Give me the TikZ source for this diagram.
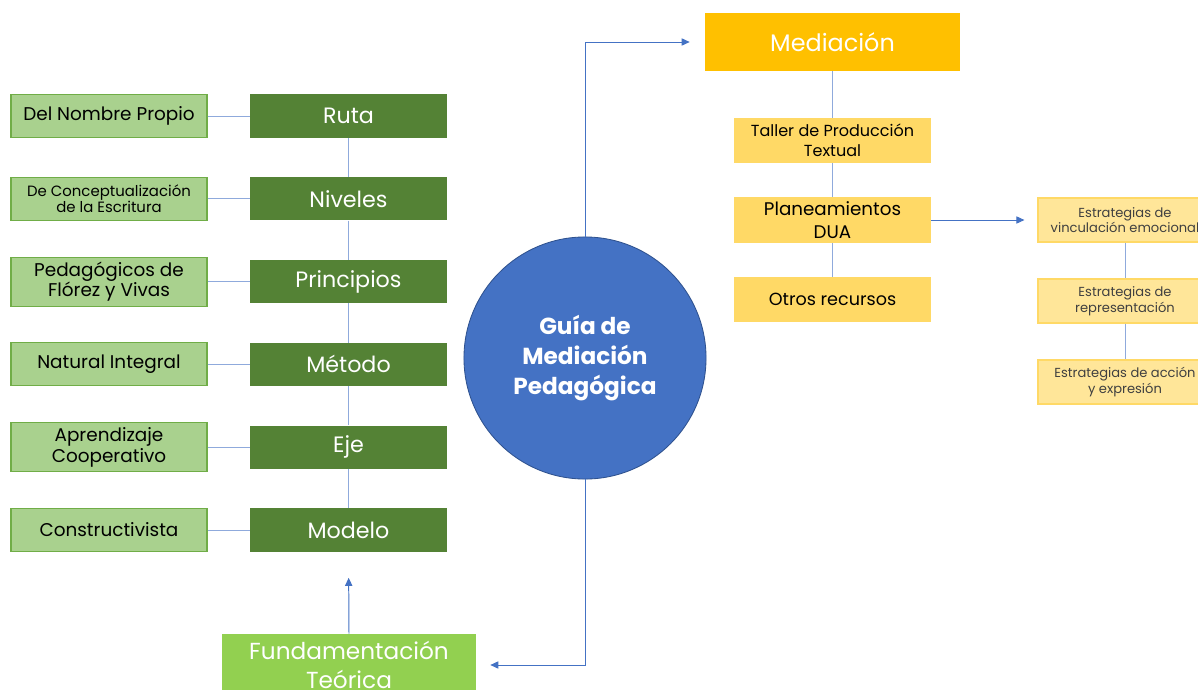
\documentclass[tikz,border=0pt]{standalone}
\usepackage{fontspec}
\setmainfont{Poppins}
\usepackage{tikz}
\usetikzlibrary{arrows.meta}
\definecolor{ramagreen}{HTML}{548235}
\definecolor{hojagreen}{HTML}{A9D18E}
\definecolor{hojaborde}{HTML}{70AD47}
\definecolor{fundgreen}{HTML}{92D050}
\definecolor{guiablue}{HTML}{4472C4}
\definecolor{guiaborde}{HTML}{2F528F}
\definecolor{medorange}{HTML}{FFC000}
\definecolor{recyellow}{HTML}{FFD966}
\definecolor{estyellow}{HTML}{FFE699}
\definecolor{linkblue}{HTML}{8FAADC}
\tikzset{
  x=0.025cm, y=-0.025cm,
  every rama/.style={fill=ramagreen, text=white, minimum width=4.925cm, minimum height=1.075cm, font=\fontsize{15.8}{17}\selectfont},
  every hoja/.style={fill=hojagreen, draw=hojaborde, line width=0.8pt, minimum width=4.9cm, minimum height=1.075cm, align=center, font=\fontsize{13.1}{14.5}\selectfont},
  niveles/.style={font=\fontsize{10.6}{11.8}\selectfont},
  every recurso/.style={fill=recyellow, minimum width=4.925cm, minimum height=1.1cm, align=center},
  every estrategia/.style={fill=estyellow, draw=recyellow, line width=0.8pt, minimum width=4.35cm, minimum height=1.1cm, align=center, text=black!75, font=\fontsize{9.3}{11}\selectfont},
  enlace/.style={draw=linkblue, line width=0.7pt},
  flecha/.style={draw=guiablue, line width=0.7pt, -{Triangle[length=0.2cm, width=0.18cm]}}
}
\begin{document}
\begin{tikzpicture}
		\clip (0,0) rectangle (1198,690);
		\fill [white] (0,0) rectangle (1198,690);

		\foreach \l/\r/\h [count=\i] in {ruta/Ruta/{Del Nombre Propio},
			niveles/Niveles/{De Conceptualización\\de la Escritura},
			principios/Principios/{Pedagógicos de\\Flórez y Vivas},
			metodo/Método/{Natural Integral},
			eje/Eje/{Aprendizaje\\Cooperativo},
			modelo/Modelo/{Constructivista}} {
			\node [every rama/.try] (r-\l) at (348.5,{116+82.8*(\i-1)}) {\r};
			\node [every hoja/.try, \l/.try] (h-\l) at (109,{116+82.8*(\i-1)}) {\h};
			\draw [enlace] (h-\l.east) -- (r-\l.west);
		};
		\foreach \a/\b in {ruta/niveles,niveles/principios,principios/metodo,metodo/eje,eje/modelo} {
			\draw [enlace] (r-\a) -- (r-\b);
		};

		\node [fill=fundgreen, text=white, minimum width=6.35cm, minimum height=1.55cm, align=center,
			font=\fontsize{16.5}{21}\selectfont] (fund) at (349,665) {Fundamentación\\Teórica};
		\draw [flecha, shorten >=0.65cm] (fund.north) -- (r-modelo.south);

		\node [circle, fill=guiablue, draw=guiaborde, line width=0.6pt, minimum size=6.05cm, text=white, align=center,
			font=\fontsize{16.5}{21.5}\selectfont\bfseries] (guia) at (585,358) {Guía de\\Mediación\\Pedagógica};

		\node [fill=medorange, text=white, minimum width=6.375cm, minimum height=1.45cm,
			font=\fontsize{17}{20}\selectfont] (med) at (832.5,42) {Mediación};
		\draw [flecha] (guia.north) |- ([xshift=-0.375cm]med.west);
		\draw [flecha] (guia.south) |- ([xshift=0.35cm]fund.east);

		\foreach \l/\t/\f/\g [count=\i] in {taller/{Taller de Producción\\Textual}/11.4/14,
			dua/{Planeamientos\\DUA}/13/16,
			otros/{Otros recursos}/12.5/15} {
			\node [every recurso/.try, font=\fontsize{\f}{\g}\selectfont] (c-\l) at (832.5,{140.5+79.5*(\i-1)}) {\t};
		};
		\draw [enlace] (med) -- (c-taller);
		\draw [enlace] (c-taller) -- (c-dua);
		\draw [enlace] (c-dua) -- (c-otros);

		\foreach \l/\t [count=\i] in {vinculo/{Estrategias de\\vinculación emocional},
			repr/{Estrategias de\\representación},
			accion/{Estrategias de acción\\y expresión}} {
			\node [every estrategia/.try] (e-\l) at (1125,{220+81*(\i-1)}) {\t};
		};
		\draw [flecha, shorten >=0.325cm] (c-dua.east) -- (e-vinculo.west);
		\draw [enlace] (e-vinculo) -- (e-repr);
		\draw [enlace] (e-repr) -- (e-accion);
	\end{tikzpicture}
\end{document}
